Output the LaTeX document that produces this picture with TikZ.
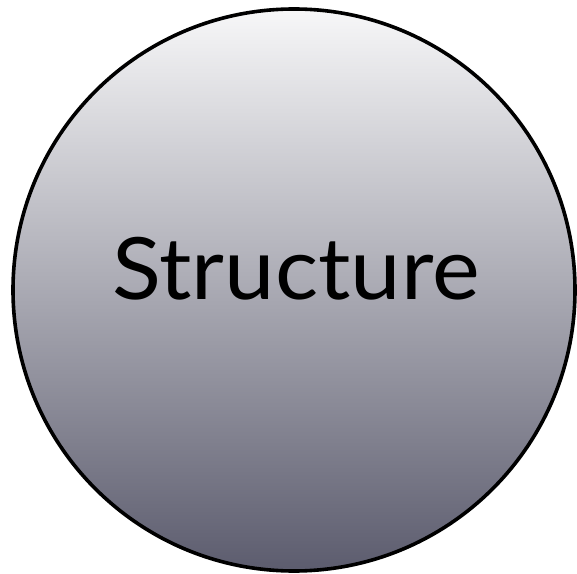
\documentclass[tikz,border=0pt]{standalone}
\usepackage{fontspec}
\setmainfont{Lato}
\definecolor{disctop}{HTML}{F7F7F8}
\definecolor{discbottom}{HTML}{5C5C6E}

\tikzset{
  disc/.style={circle, draw=black, line width=3.6pt, minimum size=562pt, inner sep=0pt,
    top color=disctop, bottom color=discbottom, middle color=disctop!50!discbottom},
  disclabel/.style={font=\fontsize{86}{100}\selectfont, text=black, xscale=1.05}
}

\begin{document}
\begin{tikzpicture}[x=1pt, y=1pt]

% Page frame
\useasboundingbox (0,0) rectangle (577,573);

% Shaded circle
\node[disc] (structure) at (294,283) {};

% Label
\node[disclabel, anchor=base] (label) at (296,273) {Structure};

\end{tikzpicture}
\end{document}
